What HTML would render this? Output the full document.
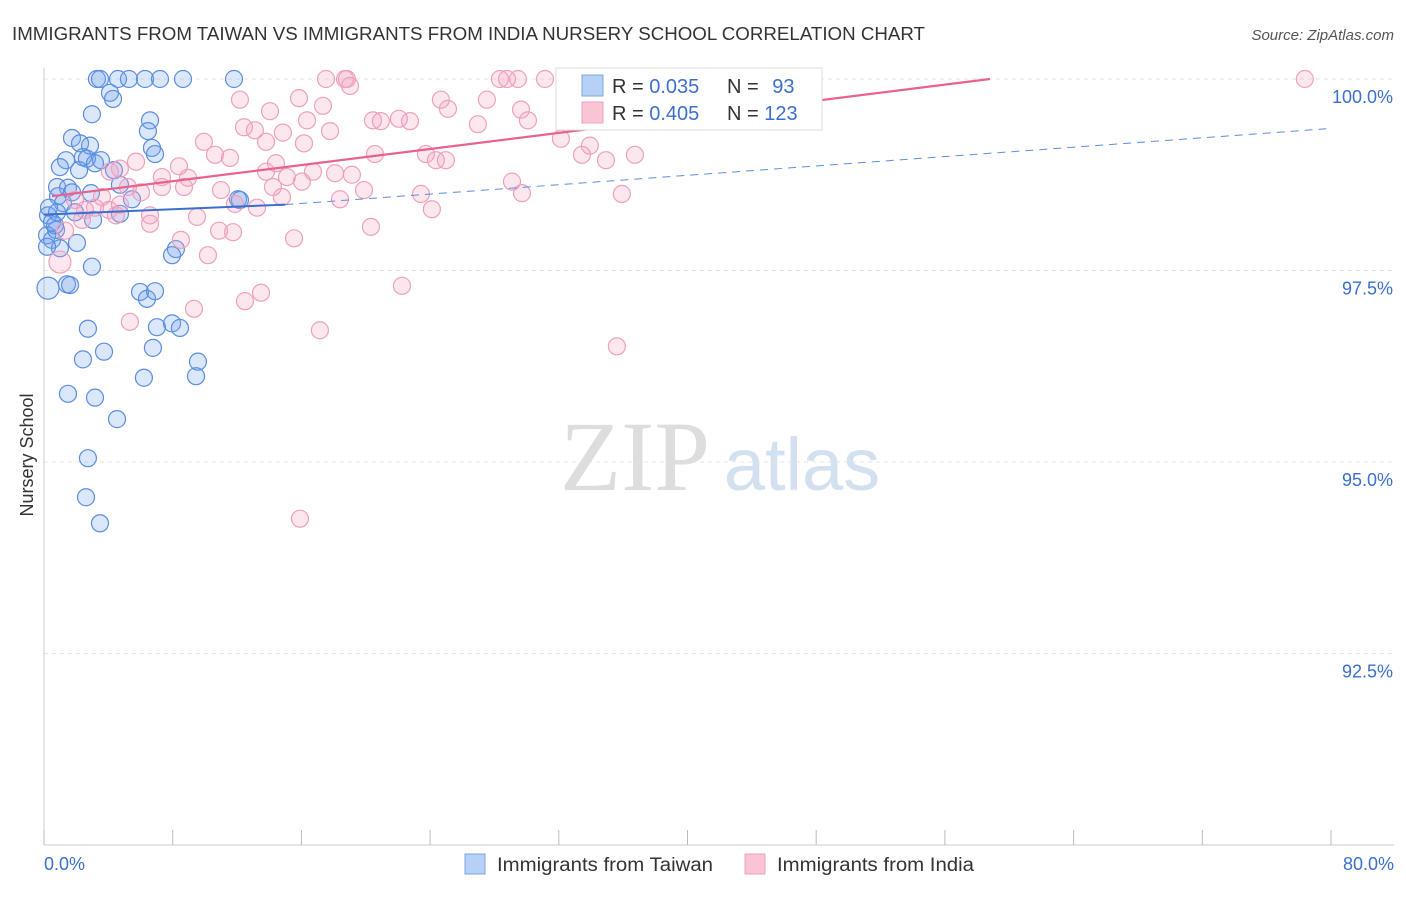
<!DOCTYPE html>
<html><head><meta charset="utf-8"><style>
body{margin:0;background:#fff;font-family:"Liberation Sans",sans-serif}
</style></head><body>
<svg id="chart" width="1406" height="892" viewBox="0 0 1406 892" font-family="Liberation Sans, sans-serif">
<text x="12" y="40" font-size="18" fill="#333" textLength="913" lengthAdjust="spacingAndGlyphs">IMMIGRANTS FROM TAIWAN VS IMMIGRANTS FROM INDIA NURSERY SCHOOL CORRELATION CHART</text>
<text x="1394" y="40" font-size="15" fill="#555" text-anchor="end" font-style="italic">Source: ZipAtlas.com</text>
<text x="33" y="455" font-size="18" fill="#333" text-anchor="middle" transform="rotate(-90 33 455)">Nursery School</text>
<g>
<text x="635" y="490" font-size="100" fill="#ddd" text-anchor="middle" style="font-family:'Liberation Serif',serif">ZIP</text>
<text x="802" y="490" font-size="74" fill="#d3e0f0" text-anchor="middle">atlas</text>
</g>
<g id="grid"></g><g id="axes"></g><g id="pts"></g><g id="trend"></g>
<g>
<rect x="556" y="68" width="266" height="62" fill="#fff" stroke="#ddd"/>
<rect x="582" y="75" width="21" height="21" fill="#b7d1f5" stroke="#7aa7e6"/>
<rect x="582" y="102" width="21" height="21" fill="#f9c4d4" stroke="#f0a0bc"/>
<text x="612" y="93" font-size="20" fill="#333">R = <tspan fill="#3b6fce">0.035</tspan></text>
<text x="727" y="93" font-size="20" fill="#333">N = <tspan fill="#3b6fce" dx="8">93</tspan></text>
<text x="612" y="120" font-size="20" fill="#333">R = <tspan fill="#3b6fce">0.405</tspan></text>
<text x="727" y="120" font-size="20" fill="#333">N = <tspan fill="#3b6fce">123</tspan></text>
</g>
<g>
<rect x="465" y="854" width="20" height="20" fill="#b7d1f5" stroke="#7aa7e6"/>
<text x="497" y="871" font-size="19" fill="#333" textLength="216" lengthAdjust="spacingAndGlyphs">Immigrants from Taiwan</text>
<rect x="745" y="854" width="20" height="20" fill="#f9c4d4" stroke="#f0a0bc"/>
<text x="777" y="871" font-size="19" fill="#333" textLength="197" lengthAdjust="spacingAndGlyphs">Immigrants from India</text>
</g>
<text x="44" y="870" font-size="18" fill="#3b6fce">0.0%</text>
<text x="1394" y="870" font-size="18" fill="#3b6fce" text-anchor="end">80.0%</text>
</svg>
<script>
const yTicks=[100,97.5,95,92.5];
const yTickLabels=["100.0%","97.5%","95.0%","92.5%"];
const xTicks=[0,8,16,24,32,40,48,56,64,72,80];
const taiwanX=[3.29,3.48,4.6,5.28,6.28,7.21,8.64,11.81,4.1,4.29,2.98,6.59,6.46,1.74,2.24,2.86,6.71,6.9,1.37,2.42,2.67,3.54,0.99,2.18,3.17,4.35,4.72,5.47,0.81,1.49,1.74,2.92,0.87,1.18,1.93,3.05,4.72,0.25,0.5,0.81,0.19,0.5,0.99,2.05,0.75,12.06,8.2,7.96,2.98,0.25,1.43,1.62,5.97,6.4,6.9,2.73,7.02,7.96,8.45,3.73,2.42,6.77,9.57,9.45,6.21,1.49,3.17,4.54,2.73,2.61,3.48,12.18,0.31,0.68,0.19];
const taiwanY=[100,100,100,100,100,100,100,100,99.82,99.74,99.54,99.46,99.32,99.23,99.16,99.13,99.1,99.02,98.94,98.98,98.96,98.94,98.85,98.81,98.9,98.81,98.62,98.43,98.59,98.58,98.52,98.51,98.47,98.38,98.26,98.16,98.24,98.22,98.13,98.26,97.96,97.9,97.79,97.86,98.03,98.43,97.78,97.7,97.55,97.27,97.32,97.31,97.22,97.13,97.23,96.74,96.76,96.81,96.75,96.44,96.34,96.49,96.31,96.12,96.1,95.89,95.84,95.56,95.05,94.54,94.2,98.42,98.32,98.09,97.81];
const indiaX=[17.53,18.71,18.83,28.34,28.78,29.46,31.14,78.37,12.18,15.85,14.05,17.34,19.02,24.67,25.11,27.53,29.65,30.08,12.43,13.11,14.85,16.35,17.78,20.45,20.94,22.06,22.75,26.97,9.94,13.8,16.16,20.57,23.74,24.36,24.98,32.13,33.93,33.44,34.93,36.73,10.63,11.56,14.42,8.39,7.33,8.95,5.72,4.72,4.1,13.8,15.1,16.72,18.09,19.14,7.33,8.7,11.0,14.23,16.03,19.89,23.43,29.09,29.71,5.22,6.03,3.6,3.17,6.59,9.51,11.87,13.24,14.79,18.4,24.11,35.92,4.47,4.04,6.59,10.88,11.75,20.32,15.54,10.19,2.36,1.31,0.99,8.51,12.49,13.49,9.32,5.34,17.15,22.25,35.61,15.91,2.55,1.93,4.72];
const indiaY=[100,100,100,100,100,100,100,100,99.73,99.75,99.58,99.65,99.91,99.73,99.61,99.73,99.6,99.46,99.37,99.33,99.3,99.46,99.32,99.46,99.45,99.48,99.45,99.41,99.18,99.18,99.16,99.02,99.02,98.94,98.94,99.22,99.13,99.01,98.94,99.01,99.01,98.97,98.9,98.86,98.72,98.71,98.92,98.83,98.79,98.79,98.72,98.79,98.77,98.75,98.59,98.59,98.55,98.59,98.66,98.55,98.5,98.66,98.51,98.59,98.52,98.46,98.32,98.22,98.2,98.37,98.32,98.46,98.43,98.3,98.5,98.22,98.29,98.11,98.02,98.0,98.07,97.92,97.7,98.16,98.02,97.61,97.9,97.1,97.21,97.0,96.83,96.72,97.3,96.51,94.26,98.29,98.42,98.36];
const taiwanTrendX=[0,15,79.7];
const taiwanTrendY=[98.23,98.36,99.35];
const indiaTrendX=[0.5,58.8];
const indiaTrendY=[98.47,100];
const X=v=>44+v*(1287/80);
const Y=v=>79+(100-v)*76.6;
const NS="http://www.w3.org/2000/svg";
function mk(tag,attrs,parent){const e=document.createElementNS(NS,tag);for(const k in attrs)e.setAttribute(k,attrs[k]);document.getElementById(parent).appendChild(e);return e;}
yTicks.forEach((t,i)=>{
 const l=mk('line',{x1:44,x2:1394,y1:Y(t),y2:Y(t),stroke:'#e4e4e4','stroke-dasharray':'4,4'},'grid');
 
 
 const tx=mk('text',{x:1393,y:Y(t)+24,'font-size':18,fill:'#3b6fce','text-anchor':'end'},'grid');
 tx.textContent=yTickLabels[i];
 
 
});
const ax=mk('line',{x1:44,x2:44,y1:68,y2:845,stroke:'#ccc'},'axes');


const bx=mk('line',{x1:44,x2:1394,y1:845,y2:845,stroke:'#ccc'},'axes');


xTicks.forEach(t=>{
 const l=mk('line',{x1:X(t),x2:X(t),y1:830,y2:845,stroke:'#bbb'},'axes');
 
 
});
taiwanX.forEach((x,i)=>{
 const c=mk('circle',{cx:X(x),cy:Y(taiwanY[i]),r:(i==49?11:8.5),fill:'rgba(110,160,235,0.25)',stroke:'#5b8ee0','stroke-width':1.2},'pts');
 
 
});
indiaX.forEach((x,i)=>{
 const c=mk('circle',{cx:X(x),cy:Y(indiaY[i]),r:(i==85?11:8.5),fill:'rgba(245,160,190,0.25)',stroke:'#f0a0bc','stroke-width':1.2},'pts');
 
 
});
const t1=mk('line',{x1:X(taiwanTrendX[0]),y1:Y(taiwanTrendY[0]),x2:X(taiwanTrendX[1]),y2:Y(taiwanTrendY[1]),stroke:'#3b6fce','stroke-width':2},'trend');


const t2=mk('line',{x1:X(taiwanTrendX[1]),y1:Y(taiwanTrendY[1]),x2:X(taiwanTrendX[2]),y2:Y(taiwanTrendY[2]),stroke:'#5b8ee0','stroke-width':1,'stroke-dasharray':'8,6'},'trend');


const t3=mk('line',{x1:X(indiaTrendX[0]),y1:Y(indiaTrendY[0]),x2:X(indiaTrendX[1]),y2:Y(indiaTrendY[1]),stroke:'#e8628e','stroke-width':2.2},'trend');


</script>
</body></html>
